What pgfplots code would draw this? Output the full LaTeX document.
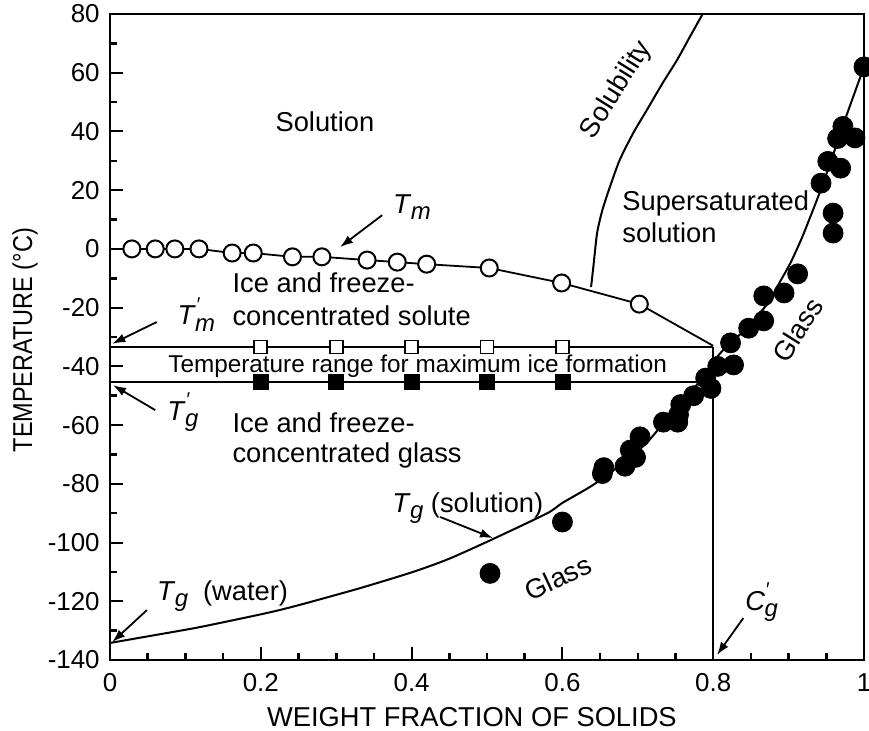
\documentclass[border=0pt]{standalone}
\usepackage{pgfplots}
\pgfplotsset{compat=1.18}
\usepackage{fontspec}
\setmainfont{Liberation Sans}
\usetikzlibrary{arrows.meta}

% annotation font
\newcommand{\af}{\fontsize{13.7}{16}\selectfont}
% T with an italic subscript, optionally primed
\newcommand{\Tsub}[1]{\textit{T}\kern-0.3pt\raisebox{-0.45ex}{\fontsize{12}{12}\selectfont\itshape #1}}
\newcommand{\Tpsub}[1]{\textit{T}\rlap{\raisebox{0.95ex}{\fontsize{10}{10}\selectfont\itshape\char"2032}}\kern-0.3pt\raisebox{-0.45ex}{\fontsize{12}{12}\selectfont\itshape #1}}
\newcommand{\Cpsub}[1]{\textit{C}\rlap{\raisebox{0.95ex}{\fontsize{10}{10}\selectfont\itshape\char"2032}}\kern-0.3pt\raisebox{-0.45ex}{\fontsize{12}{12}\selectfont\itshape #1}}

\begin{document}
\begin{tikzpicture}
\begin{axis}[
  at={(0,0)}, anchor=south west,
  width=377bp, height=323bp, scale only axis,
  xmin=0, xmax=1, ymin=-140, ymax=80,
  clip=false,
  xtick={0,0.2,0.4,0.6,0.8,1},
  xticklabels={0,0.2,0.4,0.6,0.8,1},
  minor xtick={0.05,0.1,0.15,0.25,0.3,0.35,0.45,0.5,0.55,0.65,0.7,0.75,0.85,0.9,0.95},
  ytick={-140,-120,-100,-80,-60,-40,-20,0,20,40,60,80},
  yticklabels={-140,-120,-100,-80,-60,-40,-20,0,20,40,60,80},
  minor ytick={-130,-110,-90,-70,-50,-30,-10,10,30,50,70},
  tick align=inside, tick pos=left,
  major tick length=6.5bp, minor tick length=3.5bp,
  every tick/.style={black, line width=1bp},
  every minor tick/.style={black, line width=1.3bp},
  axis line style={line width=1.3bp},
  tick label style={font=\fontsize{13}{15}\selectfont},
  xticklabel style={inner sep=0pt, anchor=north, yshift=-6.5bp},
  yticklabel style={inner sep=0pt, anchor=east, xshift=-5bp},
  label style={font=\fontsize{13.7}{16}\selectfont},
  xlabel={WEIGHT FRACTION OF SOLIDS},
  ylabel={\scalebox{0.86}[1]{TEMPERATURE (°C)}},
  xlabel style={at={(axis description cs:0.48,-0.0882)}, anchor=center},
  ylabel style={at={(axis description cs:-0.1127,0.495)}, anchor=center},
]

% glass transition curve of the solution
\addplot[line width=1bp, smooth, tension=0.4] coordinates {
  (0,-134.2) (0.06,-131.5) (0.119,-128.8) (0.208,-124) (0.252,-121.2)
  (0.332,-115.5) (0.402,-110) (0.45,-105.5) (0.508,-98.8) (0.58,-90)
  (0.6,-86.5) (0.64,-80.5) (0.68,-73) (0.712,-66) (0.743,-56.5)
  (0.76,-51.5) (0.786,-44) (0.8,-38.5) (0.813,-34.5) (0.84,-28)
  (0.871,-19) (0.889,-11) (0.903,-4.5) (0.918,4) (0.938,17)
  (0.955,29) (0.972,42) (1.0,62)
};

% solubility curve
\addplot[line width=1bp, smooth, tension=0.4] coordinates {
  (0.638,-13) (0.641,-6.2) (0.646,5.4) (0.653,13.2) (0.663,21.1)
  (0.676,30.3) (0.694,39.5) (0.712,47.3) (0.733,56.5) (0.752,64.3)
  (0.769,72.2) (0.786,80)
};

% T'm and T'g levels and the C'g line
\addplot[line width=0.9bp] coordinates {(0,-33.4) (0.8,-33.4)};
\addplot[line width=0.9bp] coordinates {(0,-45.3) (0.79,-45.3)};
\addplot[line width=0.9bp] coordinates {(0.8,-33.4) (0.8,-140)};

% melting curve, last segment down to T'm
\addplot[line width=0.9bp] coordinates {(0.702,-18.8) (0.8,-33.0)};
\addplot[line width=0.9bp, mark=*, mark size=4.25bp,
         mark options={fill=white, draw=black, line width=1bp}] coordinates {
  (0.029,0) (0.060,0) (0.086,0) (0.118,0) (0.162,-1.4) (0.190,-1.4)
  (0.242,-2.7) (0.281,-2.7) (0.341,-3.8) (0.381,-4.5) (0.420,-5.2)
  (0.503,-6.5) (0.599,-11.6) (0.702,-18.8)
};

% T'm (open) and T'g (filled) squares
\addplot[only marks, mark=square*, mark size=3.25bp,
         mark options={fill=white, draw=black, line width=0.9bp}] coordinates {
  (0.2,-33.4) (0.3,-33.4) (0.4,-33.4) (0.5,-33.4) (0.6,-33.4)
};
\addplot[only marks, mark=square*, mark size=3.75bp, black] coordinates {
  (0.2,-45.3) (0.3,-45.3) (0.4,-45.3) (0.5,-45.3) (0.6,-45.3)
};

% glass transition measurements
\addplot[only marks, mark=*, mark size=5bp, black] coordinates {
  (0.504,-110.5) (0.6,-93) (0.653,-76.5) (0.655,-74.5) (0.683,-74)
  (0.69,-68.5) (0.697,-71) (0.703,-64) (0.734,-59) (0.753,-59)
  (0.754,-56.5) (0.757,-53) (0.774,-50) (0.79,-44) (0.797,-47.5)
  (0.806,-40) (0.827,-39.5) (0.823,-32) (0.847,-27) (0.867,-24.5)
  (0.867,-16) (0.894,-15) (0.912,-8.5) (0.943,22.4) (0.952,29.8)
  (0.959,12.2) (0.959,5.4) (0.965,37.6) (0.969,27.5) (0.972,41.7)
  (0.988,37.8) (1.0,62)
};

% region labels
\node[font=\af, anchor=center] at (axis cs:0.285,43.2) {Solution};
\node[font=\af, anchor=base west, inner sep=0pt] at (axis cs:0.162,-14.7) {Ice and freeze-};
\node[font=\af, anchor=base west, inner sep=0pt] at (axis cs:0.162,-26) {concentrated solute};
\node[font=\af, anchor=base west, inner sep=0pt] at (axis cs:0.162,-62.4) {Ice and freeze-};
\node[font=\af, anchor=base west, inner sep=0pt] at (axis cs:0.162,-72.9) {concentrated glass};
\node[font=\af, anchor=base west, inner sep=0pt] at (axis cs:0.679,13.2) {Supersaturated};
\node[font=\af, anchor=base west, inner sep=0pt] at (axis cs:0.679,2.3) {solution};
\node[font=\fontsize{12.2}{14}\selectfont, anchor=base, inner sep=0pt] at (axis cs:0.408,-42.2)
  {Temperature range for maximum ice formation};
\node[font=\af, rotate=58] at (axis cs:0.672,54.1) {Solubility};
\node[font=\af, rotate=58] at (axis cs:0.912,-27.6) {Glass};
\node[font=\af, rotate=25] at (axis cs:0.594,-112) {Glass};

% labelled temperatures
\node[font=\af, anchor=base west, inner sep=0pt] at (axis cs:0.375,12.2) {\Tsub{m}};
\draw[line width=0.9bp, -{Latex[length=6.5bp,width=4.5bp]}] (axis cs:0.361,11.5) -- (axis cs:0.305,0.6);

\node[font=\af, anchor=base west, inner sep=0pt] at (axis cs:0.089,-25.9) {\Tpsub{m}};
\draw[line width=0.9bp, -{Latex[length=6.5bp,width=4.5bp]}] (axis cs:0.062,-24.9) -- (axis cs:0.003,-32.3);

\node[font=\af, anchor=base west, inner sep=0pt] at (axis cs:0.0756,-58.3) {\Tpsub{g}};
\draw[line width=0.9bp, -{Latex[length=6.5bp,width=4.5bp]}] (axis cs:0.06,-54.9) -- (axis cs:0.004,-46.4);

\node[font=\af, anchor=base west, inner sep=0pt] at (axis cs:0.062,-119.6) {\Tsub{g}\hspace{0.55em}(water)};
\draw[line width=0.9bp, -{Latex[length=6.5bp,width=4.5bp]}] (axis cs:0.049,-123) -- (axis cs:0.003,-133.9);

\node[font=\af, anchor=base west, inner sep=0pt] at (axis cs:0.374,-89.6) {\Tsub{g} (solution)};
\draw[line width=0.9bp, -{Latex[length=6.5bp,width=4.5bp]}] (axis cs:0.438,-91.3) -- (axis cs:0.508,-98.5);

\node[font=\af, anchor=base west, inner sep=0pt] at (axis cs:0.842,-123) {\Cpsub{g}};
\draw[line width=0.9bp, -{Latex[length=6.5bp,width=4.5bp]}] (axis cs:0.84,-125.7) -- (axis cs:0.805,-138.3);
\end{axis}
\pgfresetboundingbox
\path[use as bounding box] (-55bp,-35.5bp) rectangle (379.5bp,330bp);
\end{tikzpicture}
\end{document}
